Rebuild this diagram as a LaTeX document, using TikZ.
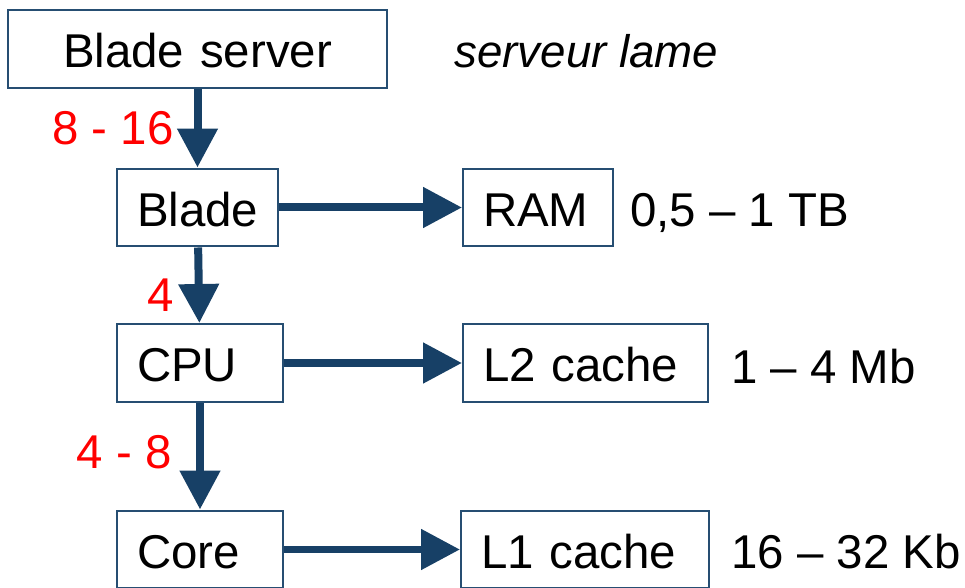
\documentclass[tikz,border=0pt]{standalone}
\usepackage{fontspec}
\setmainfont{Liberation Sans}
\usepackage{xcolor}
\usepackage{tikz}
\usetikzlibrary{arrows.meta, positioning}
\definecolor{linkblue}{RGB}{23,64,102}
\definecolor{frameblue}{RGB}{38,78,114}
\tikzstyle{box} = [rectangle, draw=frameblue, line width=0.04cm, fill=white, minimum height=1.56cm, inner xsep=0.4cm, text height=0.76cm, text depth=0pt, align=left, font=\fontsize{27}{32}\selectfont]
\tikzstyle{arrow} = [draw=linkblue, line width=0.16cm, -{Triangle[length=0.78cm, width=0.78cm]}]
\tikzstyle{note} = [anchor=base west, inner sep=0pt, font=\fontsize{27}{32}\selectfont]
\tikzstyle{count} = [anchor=base east, inner sep=0pt, text=red, font=\fontsize{27}{32}\selectfont]

\begin{document}
\begin{tikzpicture}[x=0.02cm, y=-0.02cm]
\useasboundingbox (0,0) rectangle (965,588);

% hierarchy on the left
\node (server) [box, align=center, text width=6.78cm] at (197.5,49) {Blade server};
\node (blade) [box, text width=2.42cm] at (197.5,207.5) {Blade};
\node (cpu) [box, text width=2.52cm] at (200,363) {CPU};
\node (core) [box, text width=2.52cm] at (200,549.5) {Core};

% memory attached to each level
\node (ram) [box, text width=2.2cm] at (538,207.5) {RAM};
\node (ltwo) [box, text width=4.1cm] at (585.5,363) {L2 cache};
\node (lone) [box, text width=4.16cm] at (585,549.5) {L1 cache};

% sizes and notes
\node (lame) [note, font=\fontsize{26}{32}\selectfont\itshape] at (454,68) {serveur lame};
\node (ramsize) [note] at (630,227) {0,5 -- 1 TB};
\node (ltwosize) [note] at (731,383) {1 -- 4 Mb};
\node (lonesize) [note] at (731,568) {16 -- 32 Kb};

% how many of each
\node (nblade) [count] at (174,145) {8 - 16};
\node (ncpu) [count] at (174,312) {4};
\node (ncore) [count] at (172,468) {4 - 8};

\draw [arrow] (server) -- (blade);
\draw [arrow] (blade) -- (cpu);
\draw [arrow] (cpu) -- (core);
\draw [arrow] (blade) -- (ram);
\draw [arrow] (cpu) -- (ltwo);
\draw [arrow] (core) -- (lone);
\end{tikzpicture}
\end{document}
